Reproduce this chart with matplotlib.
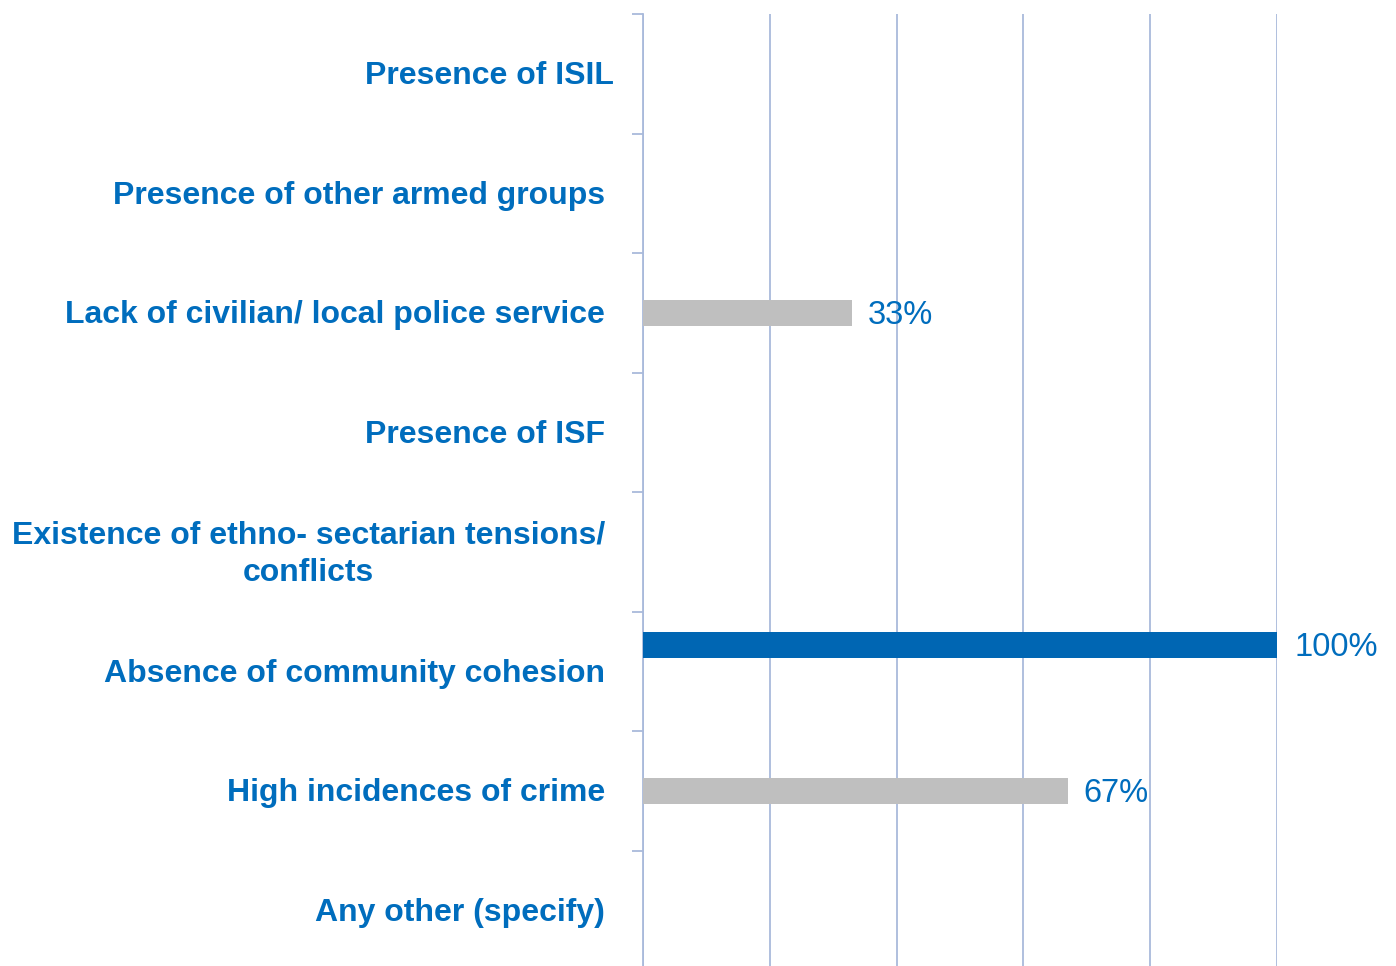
import matplotlib
matplotlib.use("Agg")
import matplotlib.pyplot as plt
import matplotlib.transforms as mtrans
import numpy as np

categories = [
    "Presence of ISIL",
    "Presence of other armed groups",
    "Lack of civilian/ local police service",
    "Presence of ISF",
    "Existence of ethno- sectarian tensions/\nconflicts",
    "Absence of community cohesion",
    "High incidences of crime",
    "Any other (specify)",
]
gray_values = [0, 0, 33, 0, 0, 0, 67, 0]
blue_values = [0, 0, 0, 0, 0, 100, 0, 0]
x_ticks = [0, 20, 40, 60, 80, 100]

TEXT_BLUE = "#006DBD"
BAR_BLUE = "#0066B3"
BAR_GRAY = "#BFBFBF"
GRID = "#A9BADB"

plt.rcParams["font.family"] = ["Liberation Sans", "DejaVu Sans"]

fig = plt.figure(figsize=(13.96, 9.66), dpi=100)
ax = fig.add_axes([643 / 1396, -4 / 966, 634 / 1396, 956 / 966])

y = np.arange(len(categories))
h = 0.218
ax.barh(y, gray_values, height=h, color=BAR_GRAY, zorder=3)
ax.barh(y - h, blue_values, height=h, color=BAR_BLUE, zorder=3)

for yi, v in zip(y, gray_values):
    if v:
        ax.annotate(f"{v}%", (v, yi), xytext=(11.5, -2), textcoords="offset points",
                    ha="left", va="center", fontsize=23.5, color=TEXT_BLUE, zorder=4)
for yi, v in zip(y, blue_values):
    if v:
        ax.annotate(f"{v}%", (v, yi - h), xytext=(12.5, -2), textcoords="offset points",
                    ha="left", va="center", fontsize=23.5, color=TEXT_BLUE, zorder=4)

ax.set_xlim(0, 100)
ax.set_ylim(len(categories) - 0.5, -0.5)
ax.set_xticks(x_ticks)
ax.grid(axis="x", color=GRID, lw=1.3, zorder=0)
ax.tick_params(axis="x", length=0, labelbottom=False)

# category boundaries as tick marks on the left spine
ax.set_yticks(np.arange(len(categories) + 1) - 0.5, minor=True)
ax.set_yticks([])
ax.tick_params(axis="y", which="minor", length=8, width=1.3, color=GRID, direction="out")

for s in ["top", "right", "bottom"]:
    ax.spines[s].set_visible(False)
ax.spines["left"].set_color(GRID)
ax.spines["left"].set_linewidth(1.3)

trans = mtrans.blended_transform_factory(fig.transFigure, ax.transData)
for i, lab in enumerate(categories):
    xr = 614 if i == 0 else 605
    ax.text(xr / 1396, i + 0.02, lab, transform=trans, ha="right", va="center",
            multialignment="center", fontsize=23, fontweight="bold",
            color=TEXT_BLUE, linespacing=1.3)

fig.savefig("out.png", dpi=100)
